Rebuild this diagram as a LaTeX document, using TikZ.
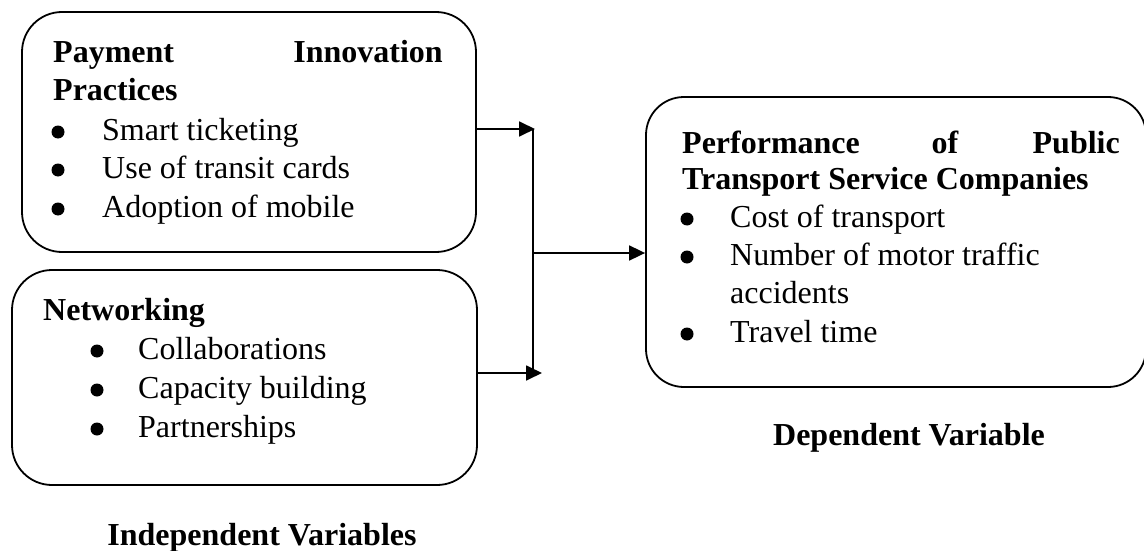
\documentclass[tikz,border=0pt]{standalone}
\usepackage{fontspec}
\setmainfont{Liberation Serif}
\usetikzlibrary{arrows.meta}
\tikzset{
  box/.style={draw, line width=1.8pt, inner sep=0pt},
  txt/.style={inner sep=0pt, anchor=base west, font=\fontsize{32}{38}\selectfont},
  txtb/.style={txt, font=\fontsize{32}{38}\selectfont\bfseries},
  lbl/.style={inner sep=0pt, anchor=base, font=\fontsize{32}{38}\selectfont\bfseries},
  bul/.style={circle, fill=black, inner sep=0pt, minimum size=13pt},
  conn/.style={line width=1.8pt},
  arr/.style={conn, -{Triangle[length=16pt,width=15pt]}}
}
\begin{document}
\begin{tikzpicture}[x=1pt,y=-1pt]
\useasboundingbox (0,0) rectangle (1144,551);
% boxes
\node[box, rounded corners=40pt, minimum width=454pt, minimum height=240pt] (b1) at (249,132) {};
\node[box, rounded corners=40pt, minimum width=465pt, minimum height=215pt] (b2) at (244.5,377.5) {};
\node[box, rounded corners=38pt, minimum width=500pt, minimum height=290pt] (b3) at (896,242) {};
% box 1 text
\node[txtb] (p1) at (53,63) {Payment};
\node[txtb, anchor=base east] (p2) at (443,63) {Innovation};
\node[txtb] (p3) at (53,100) {Practices};
\node[bul] (u1) at (58,132) {};
\node[txt] (s1) at (102,140) {Smart ticketing};
\node[bul] (u2) at (58,170) {};
\node[txt] (s2) at (102,178) {Use of transit cards};
\node[bul] (u3) at (58,209) {};
\node[txt] (s3) at (102,217) {Adoption of mobile};
% box 2 text
\node[txtb] (n1) at (43,320) {Networking};
\node[bul] (v1) at (97,351) {};
\node[txt] (c1) at (138,359) {Collaborations};
\node[bul] (v2) at (97,390) {};
\node[txt] (c2) at (138,398) {Capacity building};
\node[bul] (v3) at (97,429) {};
\node[txt] (c3) at (138,437) {Partnerships};
% box 3 text
\node[txtb] (h1) at (682,153) {Performance};
\node[lbl] (h2) at (945,153) {of};
\node[txtb, anchor=base east] (h3) at (1120,153) {Public};
\node[txtb] (h4) at (682,189) {Transport Service Companies};
\node[bul] (w1) at (687,219) {};
\node[txt] (d1) at (730,227) {Cost of transport};
\node[bul] (w2) at (687,257) {};
\node[txt] (d2) at (730,265) {Number of motor traffic};
\node[txt] (d3) at (730,303) {accidents};
\node[bul] (w3) at (687,334) {};
\node[txt] (d4) at (730,342) {Travel time};
% labels
\node[lbl] (iv) at (262,545) {Independent Variables};
\node[lbl] (dv) at (909,445) {Dependent Variable};
% connectors
\coordinate (t1) at (535,129);
\coordinate (t2) at (542,373);
\coordinate (jt) at (533,129);
\coordinate (jb) at (533,373);
\coordinate (jm) at (533,253);
\draw[arr] (b1.east |- t1) -- (t1);
\draw[arr] (b2.east |- t2) -- (t2);
\draw[conn] (jt) -- (jb);
\draw[arr] (jm) -- (b3.west |- jm);
\end{tikzpicture}
\end{document}
